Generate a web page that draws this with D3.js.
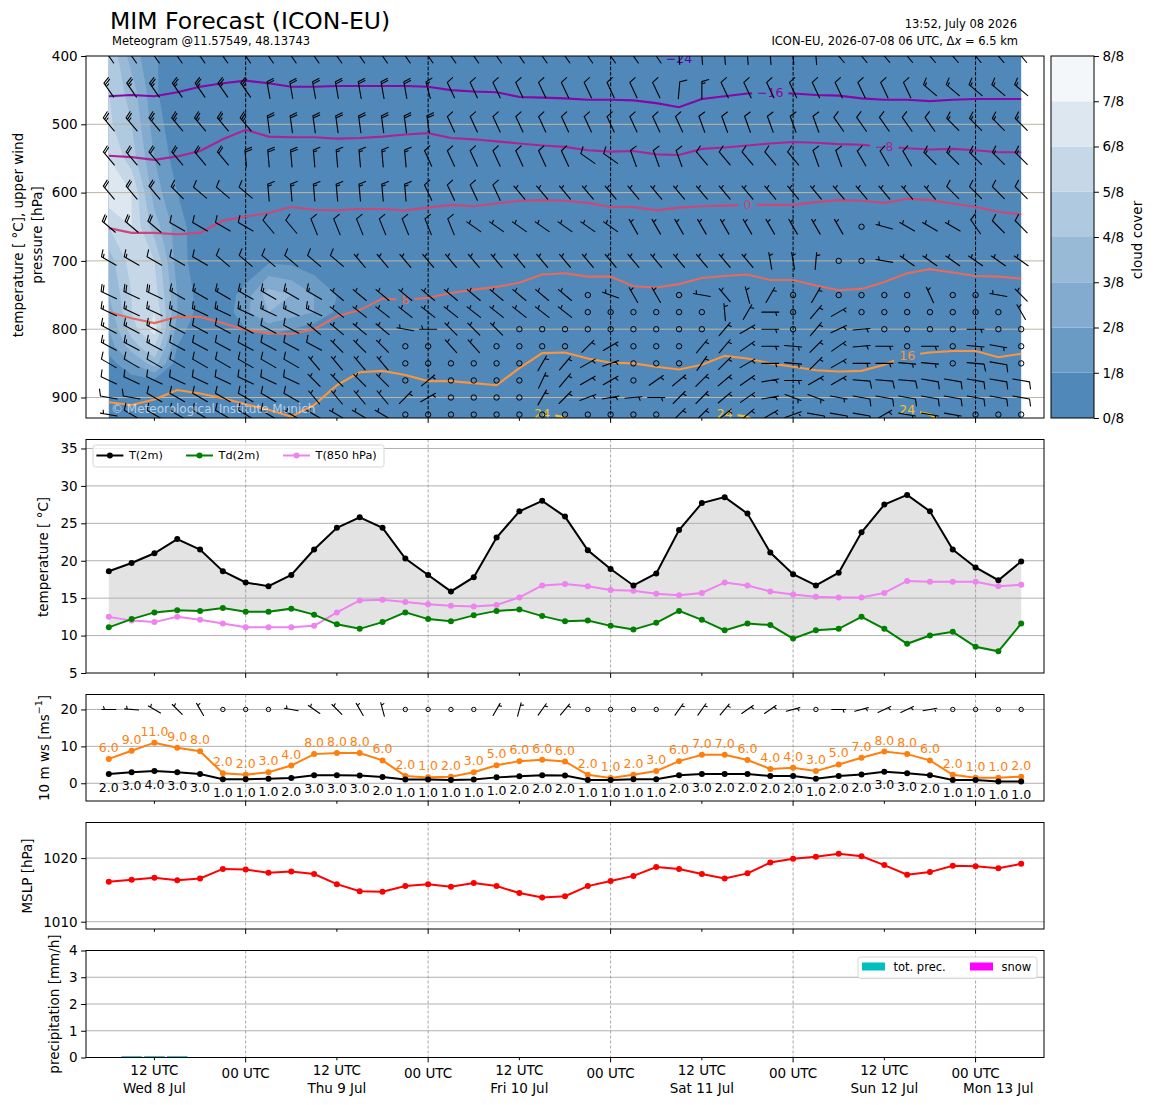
<!DOCTYPE html>
<html>
<head>
<meta charset="utf-8">
<title>MIM Forecast (ICON-EU)</title>
<script src="https://cdn.jsdelivr.net/npm/d3@7"></script>
<style>
  body { margin: 0; background: #fff; }
  text { font-family: "DejaVu Sans", "Liberation Sans", sans-serif; }
</style>
</head>
<body>
<div id="meteogram"></div>
<script>
// ICON-EU meteogram, run 2026-07-08 06 UTC, 3-hourly steps
const runStart = new Date(Date.UTC(2026, 6, 8, 6));
const runEnd = new Date(Date.UTC(2026, 6, 13, 6));
const times = d3.utcHour.every(3).range(runStart, d3.utcHour.offset(runEnd, 1));

// pressure levels of the upper-air grid [hPa]
const levels = [400, 450, 500, 550, 600, 650, 700, 750, 775, 800, 825, 850, 875, 900, 925];

// cloud cover [octas], one row per level
const cloudCover = [
  [5,2.5,1.2,0,0,0,0,0,0,0, 0,0,0,0,0,0,0,0,0,0, 0,0,0,0,0,0,0,0,0,0, 0,0,0,0,0,0,0,0,0,0, 0],
  [5,3.5,1.2,0,0,0,0,0,0,0, 0,0,0,0,0,0,0,0,0,0, 0,0,0,0,0,0,0,0,0,0, 0,0,0,0,0,0,0,0,0,0, 0],
  [5.2,4,1.5,0.3,0,0,0,0,0,0, 0,0,0,0,0,0,0,0,0,0, 0,0,0,0,0,0,0,0,0,0, 0,0,0,0,0,0,0,0,0,0, 0],
  [6,4.5,2,0.5,0,0,0,0,0,0, 0,0,0,0,0,0,0,0,0,0, 0,0,0,0,0,0,0,0,0,0, 0,0,0,0,0,0,0,0,0,0, 0],
  [6.8,6,2.5,1,0,0,0,0,0,0, 0,0,0,0,0,0,0,0,0,0, 0,0,0,0,0,0,0,0,0,0, 0,0,0,0,0,0,0,0,0,0, 0],
  [5,6,3.5,1.5,0.3,0,0,0,0,0, 0,0,0,0,0,0,0,0,0,0, 0,0,0,0,0,0,0,0,0,0, 0,0,0,0,0,0,0,0,0,0, 0],
  [3.5,5.5,5,1.5,0.4,0,0,0.8,0.7,0.3, 0,0,0,0,0,0,0,0,0,0, 0,0,0,0,0,0,0,0,0,0, 0,0,0,0,0,0,0,0,0,0, 0],
  [3,5,5.5,2,0.6,0.3,1.5,3.5,3,2, 1,0.3,0,0,0,0,0,0,0,0, 0,0,0,0,0,0,0,0,0,0, 0,0,0,0,0,0,0,0,0,0, 0],
  [2.5,5,6,2,0.6,0.3,1.8,3,2.5,2, 0.8,0,0,0,0,0,0,0,0,0, 0,0,0,0,0,0,0,0,0,0, 0,0,0,0,0,0,0,0,0,0, 0],
  [2,4.5,6.5,1.5,0.3,0,1,1.5,1,0.5, 0,0,0,0,0,0,0,0,0,0, 0,0,0,0,0,0,0,0,0,0, 0,0,0,0,0,0,0,0,0,0, 0],
  [1.5,3.5,5,1,0,0,0,0,0,0, 0,0,0,0,0,0,0,0,0,0, 0,0,0,0,0,0,0,0,0,0, 0,0,0,0,0,0,0,0,0,0, 0],
  [0.5,2,3.5,0.5,0,0,0,0,0,0, 0,0,0,0,0,0,0,0,0,0, 0,0,0,0,0,0,0,0,0,0, 0,0,0,0,0,0,0,0,0,0, 0],
  [0,0.5,0.8,0,0,0,0,0,0,0, 0,0,0,0,0,0,0,0,0,0, 0,0,0,0,0,0,0,0,0,0, 0,0,0,0,0,0,0,0,0,0, 0],
  [0,0,0,0,0,0,0,0,0,0, 0,0,0,0,0,0,0,0,0,0, 0,0,0,0,0,0,0,0,0,0, 0,0,0,0,0,0,0,0,0,0, 0],
  [0,0,0,0,0,0,0,0,0,0, 0,0,0,0,0,0,0,0,0,0, 0,0,0,0,0,0,0,0,0,0, 0,0,0,0,0,0,0,0,0,0, 0]
];

// upper wind direction [deg, from] and speed [kt], one row per level
const upperDir = [
  [325,325,325,325,325,325,325,325,325,325, 325,325,325,325,325,325,325,325,325,325, 325,325,325,325,325,355,355,355,355,355, 355,355,320,320,320,320,320,320,320,320, 320],
  [325,325,325,325,325,325,325,350,350,350, 350,350,350,350,345,335,335,335,335,335, 335,335,335,335,335,5,360,335,335,335, 335,335,335,335,335,335,310,310,310,310, 310],
  [320,320,320,320,320,320,320,352,352,352, 352,352,352,352,352,335,335,335,335,335, 335,335,335,335,335,335,340,340,340,340, 340,340,325,325,325,325,325,315,315,315, 315],
  [320,320,320,320,320,320,355,355,355,355, 355,355,355,355,335,335,335,335,335,335, 335,305,305,340,340,340,320,320,320,320, 320,340,340,330,330,330,315,315,315,315, 315],
  [320,320,320,315,310,310,310,355,355,355, 355,355,355,355,335,335,335,335,320,320, 320,320,320,320,320,320,320,320,320,320, 320,320,320,320,320,320,320,315,315,315, 315],
  [310,310,310,300,300,300,300,320,320,338, 338,338,338,338,338,338,305,305,305,305, 305,305,305,330,330,330,330,330,330,330, 330,330,330,0,285,300,300,300,325,315, 315],
  [300,300,300,300,300,310,310,310,310,310, 310,320,320,320,320,320,320,320,320,320, 320,320,320,320,320,320,320,320,320,350, 350,5,0,0,280,305,305,305,305,305, 305],
  [295,295,295,300,300,300,300,300,300,300, 310,310,310,310,310,310,310,310,310,310, 310,0,290,330,330,0,280,320,345,30, 0,30,0,0,0,0,335,0,0,280, 315],
  [295,295,295,295,295,295,295,295,295,295, 308,308,308,308,308,308,308,308,308,308, 308,0,0,0,0,0,0,355,30,90, 0,40,60,0,0,0,0,0,0,0, 330],
  [298,298,298,298,298,298,298,298,298,310, 310,310,310,280,270,315,315,315,0,0, 0,0,0,0,0,0,0,40,60,90, 0,40,65,85,0,0,0,0,90,0, 0],
  [298,298,298,298,298,298,298,298,298,298, 315,315,315,0,0,318,318,0,0,0, 0,45,60,0,0,0,40,40,55,90, 95,45,55,85,90,0,90,0,95,100, 0],
  [300,300,300,300,300,300,300,300,300,320, 320,320,320,0,0,0,0,0,0,30, 40,60,70,0,0,0,35,45,60,90, 95,45,60,90,90,95,95,0,95,100, 0],
  [295,295,295,295,295,295,295,295,295,315, 315,315,315,0,50,0,0,0,0,25, 40,60,60,0,55,50,45,50,55,80, 90,60,60,95,95,95,100,100,100,100, 100],
  [280,280,300,300,300,300,300,300,300,320, 320,320,320,45,60,0,0,0,0,30, 45,70,80,85,90,45,45,50,55,80, 110,110,100,100,100,100,100,100,100,100, 100],
  [280,300,300,300,300,300,300,300,300,300, 300,300,300,0,0,0,0,0,0,0, 0,0,0,0,0,45,45,50,50,60, 70,100,100,100,60,100,100,100,0,0, 0]
];
const upperSpd = [
  [25,25,25,25,25,25,25,25,25,25, 25,25,25,25,25,25,25,25,25,25, 25,25,25,25,25,25,25,25,25,25, 25,25,25,25,25,25,25,25,25,25, 25],
  [25,25,25,25,25,25,25,20,20,20, 20,20,20,20,15,10,10,10,10,10, 10,10,10,10,10,10,15,10,10,10, 10,10,10,10,10,10,15,15,15,15, 15],
  [25,25,25,25,25,25,25,20,20,20, 20,20,20,20,20,10,10,10,10,10, 10,10,10,10,10,10,10,10,10,10, 10,10,10,10,10,10,10,15,15,15, 15],
  [20,20,20,20,20,20,20,20,20,15, 15,15,15,15,10,10,10,10,10,10, 10,10,10,10,10,10,10,10,10,10, 10,10,10,10,10,10,15,15,15,15, 15],
  [20,20,20,15,10,10,10,15,15,15, 15,15,15,15,10,10,10,10,5,5, 5,5,5,5,5,5,5,5,5,5, 5,5,5,5,5,5,5,10,10,10, 10],
  [20,20,20,10,10,10,10,10,10,10, 10,10,10,10,10,10,5,5,5,5, 5,5,5,5,5,5,5,5,5,5, 5,5,5,0,5,5,5,5,10,10, 10],
  [15,15,10,10,10,10,10,10,10,10, 10,5,5,5,5,5,5,5,5,5, 5,5,5,5,5,5,5,5,5,5, 5,5,0,0,5,5,5,5,5,5, 5],
  [20,20,20,15,15,15,15,15,15,15, 5,5,5,5,5,5,5,5,5,5, 5,0,5,5,5,0,5,5,5,5, 0,5,0,0,0,0,5,0,0,5, 5],
  [15,15,15,15,15,15,15,15,15,15, 5,5,5,5,5,5,5,5,5,5, 5,0,0,0,0,0,0,5,5,5, 0,5,5,0,0,0,0,0,0,0, 5],
  [15,15,15,10,10,10,10,10,10,5, 5,5,5,5,5,5,5,5,0,0, 0,0,0,0,0,0,0,5,5,5, 0,5,5,5,0,0,0,0,5,0, 0],
  [15,15,15,10,10,10,10,10,10,10, 5,5,5,0,0,5,5,0,0,0, 0,5,5,0,0,0,5,5,5,5, 5,5,5,5,5,0,5,0,5,5, 0],
  [10,10,10,10,10,10,10,10,10,5, 5,5,5,0,0,0,0,0,0,5, 5,5,5,0,0,0,5,5,5,5, 5,5,5,5,5,5,5,0,10,10, 0],
  [10,10,10,10,10,10,10,10,10,5, 5,5,5,0,5,0,0,0,0,5, 5,5,5,0,5,5,5,5,5,5, 5,5,5,10,10,10,10,10,10,10, 10],
  [10,10,10,10,10,10,10,10,10,5, 5,5,5,5,5,0,0,0,0,5, 5,5,5,5,5,5,5,5,5,5, 5,5,5,10,10,10,10,10,10,10, 10],
  [5,10,10,10,10,10,10,10,5,5, 5,5,5,0,0,0,0,0,0,0, 0,0,0,0,0,5,5,5,5,5, 5,10,10,10,5,5,5,5,0,0, 0]
];

// isotherms: pressure [hPa] of each isotherm at every step
const isoLevels = [-24, -16, -8, 0, 8, 16, 24];
const isoM24 = [392,392,392,392,392,392,392,392,392,392, 392,392,392,392,392,392,392,392,392,392, 393,393,393,394,397,404,397,394,393,393, 392,392,392,392,392,392,392,392,392,392, 392];
const isoM16 = [459,457,459,453,445,440,436,440,445,445, 444,444,444,444,445,450,452,453,460,461, 462,464,464,465,469,475,463,459,455,454, 455,457,458,462,464,464,466,464,463,463, 463];
const isoM8 = [546,548,552,547,539,522,508,518,519,519, 521,520,518,515,513,520,522,525,528,531, 533,538,540,539,544,545,536,534,531,528, 526,527,529,530,533,535,537,536,538,541, 541];
const iso0 = [652,659,659,661,659,641,635,630,621,625, 626,624,624,626,622,618,620,616,612,611, 612,615,621,621,626,622,620,619,618,618, 618,614,611,612,615,609,611,616,621,628, 632];
const iso8 = [775,784,791,782,782,791,801,806,807,800, 781,772,755,757,754,747,742,738,732,720, 718,723,723,737,739,734,725,722,720,728, 728,736,743,741,731,718,712,717,722,723, 726];
const iso16 = [907,911,903,889,894,901,910,918,928,911, 882,863,861,867,876,876,879,882,857,835, 834,843,849,850,855,859,852,839,843,850, 855,860,862,861,852,838,834,832,832,841, 836];
const iso24 = [950,950,950,950,950,950,950,950,950,950, 950,950,950,950,950,950,950,950,945,923, 929,950,950,950,950,950,945,923,928,950, 950,950,950,950,945,917,925,945,950,950, 950];
const isoLabelSteps = [[25], [29], [34], [28], [13], [35], [19, 27, 35]];

// surface values
const t2m = [18.6,19.7,21.0,22.9,21.5,18.6,17.1,16.6,18.1,21.5, 24.4,25.8,24.4,20.3,18.1,15.9,17.8,23.1,26.6,28.0, 25.9,21.4,18.9,16.7,18.3,24.1,27.7,28.5,26.3,21.1, 18.2,16.7,18.4,23.8,27.5,28.8,26.6,21.5,19.1,17.4, 19.9];
const td2m = [11.1,12.2,13.1,13.4,13.3,13.7,13.2,13.2,13.6,12.8, 11.5,10.9,11.8,13.1,12.2,11.9,12.7,13.3,13.5,12.6, 11.9,12.0,11.3,10.8,11.7,13.3,12.1,10.7,11.6,11.4, 9.6,10.7,10.9,12.5,10.9,8.9,10.0,10.5,8.5,7.9, 11.6];
const t850 = [12.5,12.0,11.8,12.5,12.1,11.6,11.1,11.1,11.1,11.3, 13.1,14.7,14.8,14.5,14.2,14.0,13.9,14.1,15.1,16.7, 16.9,16.6,16.1,16.0,15.6,15.4,15.7,17.1,16.7,15.9, 15.5,15.2,15.1,15.1,15.7,17.3,17.2,17.2,17.2,16.6, 16.8];

// 10 m wind [m/s], gusts [m/s], labels as printed, direction [deg]
const ws10 = [2.5,3.0,3.3,3.0,2.5,1.1,1.1,1.2,1.4,2.2, 2.2,2.1,1.7,1.0,1.0,0.9,1.0,1.6,1.9,2.2, 2.1,0.9,0.9,1.1,1.1,2.2,2.5,2.5,2.5,2.0, 2.0,1.25,2.0,2.4,3.1,2.7,2.2,0.9,0.9,0.5, 0.5];
const ws10Labels = [2,3,4,3,3,1,1,1,2,3, 3,3,2,1,1,1,1,1,2,2, 2,1,1,1,1,2,3,2,2,2, 2,1,2,2,3,3,2,1,1,1, 1];
const gust10 = [6.6,8.8,11.0,9.6,8.7,2.7,2.3,3.0,4.8,7.9, 8.2,8.2,6.2,2.0,1.6,1.8,3.0,4.9,6.0,6.4, 5.9,2.3,1.4,2.3,3.3,6.0,7.7,7.7,6.3,3.9, 4.2,3.3,5.1,6.9,8.6,7.9,6.2,2.3,1.5,1.5, 1.8];
const gustLabels = [6,9,11,9,8,2,2,3,4,8, 8,8,6,2,1,2,3,5,6,6, 6,2,1,2,3,6,7,7,6,4, 4,3,5,7,8,8,6,2,1,1, 2];
const wd10 = [270,275,300,315,330,0,0,0,280,305, 315,330,345,0,0,0,0,30,15,35, 40,0,0,0,0,35,35,40,55,55, 75,0,90,75,65,65,80,0,0,0, 0];

const mslp = [1016.3,1016.6,1016.9,1016.5,1016.8,1018.3,1018.2,1017.7,1017.9,1017.5, 1015.9,1014.8,1014.7,1015.6,1015.9,1015.5,1016.1,1015.6,1014.5,1013.8, 1014.0,1015.6,1016.4,1017.2,1018.6,1018.3,1017.5,1016.8,1017.6,1019.3, 1019.9,1020.2,1020.7,1020.3,1018.9,1017.4,1017.8,1018.8,1018.7,1018.4, 1019.1];
const totPrec = [0,0.05,0.05,0.05,0,0,0,0,0,0, 0,0,0,0,0,0,0,0,0,0, 0,0,0,0,0,0,0,0,0,0, 0,0,0,0,0,0,0,0,0,0, 0];
const snowPrec = [0,0,0,0,0,0,0,0,0,0, 0,0,0,0,0,0,0,0,0,0, 0,0,0,0,0,0,0,0,0,0, 0,0,0,0,0,0,0,0,0,0, 0];

const cloudTicks = ["0/8","1/8","2/8","3/8","4/8","5/8","6/8","7/8","8/8"];

// ---------------------------------------------------------------
const svgWidth = 1155, svgHeight = 1105;
const left = 86, right = 1044;
const cloudColors = ["#5088b9","#6a9bc4","#82abcf","#98bad7","#afc9e0","#c6d8e8","#dde7f0","#f3f7fa"];
const isoColors = ["#5c01a6","#8606a6","#ab2494","#cc4778","#e56b5d","#f89540","#f5c228"];
const nSteps = times.length;

const svg = d3.select("#meteogram").append("svg")
    .attr("width", svgWidth)
    .attr("height", svgHeight);
const defs = svg.append("defs");

const x = d3.scaleUtc()
    .domain([new Date(Date.UTC(2026, 6, 8, 3)), new Date(Date.UTC(2026, 6, 13, 9))])
    .range([left, right]);
const stepX = d3.scaleLinear().domain([0, nSteps - 1]).range([x(times[0]), x(times[nSteps - 1])]);

const panels = {
    cloud: {top: 56, bottom: 418},
    temp: {top: 439.5, bottom: 673},
    wind: {top: 694.5, bottom: 801},
    mslp: {top: 822.5, bottom: 929},
    prec: {top: 950.5, bottom: 1057.5}
};

const yP = d3.scaleLinear().domain([400, 930]).range([panels.cloud.top, panels.cloud.bottom]);
const yT = d3.scaleLinear().domain([5, 36.2]).range([panels.temp.bottom, panels.temp.top]);
const yW = d3.scaleLinear().domain([-4.8, 24.05]).range([panels.wind.bottom, panels.wind.top]);
const yM = d3.scaleLinear().domain([1008.85, 1025.6]).range([panels.mslp.bottom, panels.mslp.top]);
const yR = d3.scaleLinear().domain([0, 4]).range([panels.prec.bottom, panels.prec.top]);

Object.entries(panels).forEach(([k, p]) => {
    defs.append("clipPath").attr("id", "clip-" + k)
        .append("rect").attr("x", left).attr("y", p.top)
        .attr("width", right - left).attr("height", p.bottom - p.top);
});

const majorTicks = d3.utcDay.range(x.domain()[0], x.domain()[1]);
const minorTicks = d3.utcHour.every(12).range(x.domain()[0], x.domain()[1]).filter(d => d.getUTCHours() === 12);

function panelGroup(key) {
    return svg.append("g").attr("clip-path", `url(#clip-${key})`);
}

function hGrid(g, scale, values, color) {
    g.selectAll(null).data(values).join("line")
        .attr("x1", left).attr("x2", right)
        .attr("y1", d => scale(d)).attr("y2", d => scale(d))
        .attr("stroke", color).attr("stroke-width", 1);
}

function vGrid(g, p, color, width, dash) {
    g.selectAll(null).data(majorTicks).join("line")
        .attr("x1", d => x(d)).attr("x2", d => x(d))
        .attr("y1", p.top).attr("y2", p.bottom)
        .attr("stroke", color).attr("stroke-width", width)
        .attr("stroke-dasharray", dash);
}

function yAxis(scale, values, fmt) {
    const g = svg.append("g")
        .attr("transform", `translate(${left},0)`)
        .call(d3.axisLeft(scale).tickValues(values).tickSize(4.9).tickPadding(3.5).tickFormat(fmt || d3.format("d")));
    g.select(".domain").remove();
    g.attr("font-size", 13.5);
    g.selectAll("line").attr("stroke", "#000");
    g.selectAll("text").attr("fill", "#000");
}

function xTicks(p) {
    const g = svg.append("g");
    g.selectAll(null).data(majorTicks).join("line")
        .attr("x1", d => x(d)).attr("x2", d => x(d))
        .attr("y1", p.bottom).attr("y2", p.bottom + 4.9).attr("stroke", "#000");
    g.selectAll(null).data(minorTicks).join("line")
        .attr("x1", d => x(d)).attr("x2", d => x(d))
        .attr("y1", p.bottom).attr("y2", p.bottom + 2.8).attr("stroke", "#000");
}

function frame(p) {
    svg.append("rect")
        .attr("x", left).attr("y", p.top)
        .attr("width", right - left).attr("height", p.bottom - p.top)
        .attr("fill", "none").attr("stroke", "#000").attr("stroke-width", 1);
}

function yLabel(cx, cy, parts) {
    const t = svg.append("text")
        .attr("transform", `translate(${cx},${cy}) rotate(-90)`)
        .attr("text-anchor", "middle")
        .attr("dominant-baseline", "central")
        .attr("font-size", 13.5);
    parts.forEach(pt => {
        const s = t.append("tspan").text(pt.text);
        if (pt.sup) s.attr("baseline-shift", "super").attr("font-size", 9.5);
    });
    return t;
}

function drawBarb(g, cx, cy, dir, kt, len, rad) {
    const mag = 5 * Math.floor(kt / 5 + 0.5);
    if (mag === 0) {
        g.append("circle").attr("cx", cx).attr("cy", cy).attr("r", rad)
            .attr("fill", "none").attr("stroke", "#000").attr("stroke-width", 1);
        return;
    }
    const a = dir * Math.PI / 180;
    const sx = Math.sin(a), sy = -Math.cos(a);
    const nx = -sy, ny = sx;
    const bx = cx - sx * len / 2, by = cy - sy * len / 2;
    const pt = (o, h) => `${(bx + sx * o + nx * h).toFixed(2)},${(by + sy * o + ny * h).toFixed(2)}`;
    const fh = 0.4 * len, fw = 0.25 * len, sp = 0.125 * len;
    const flags = Math.floor(mag / 50), rest = mag % 50;
    const full = Math.floor(rest / 10), half = rest % 10 >= 5;
    let d = `M${pt(0, 0)}L${pt(len, 0)}`;
    let poly = "";
    let off = len;
    for (let k = 0; k < flags; k++) {
        poly += `M${pt(off, 0)}L${pt(off - fw / 2, fh)}L${pt(off - fw, 0)}Z`;
        off -= fw + sp;
    }
    for (let k = 0; k < full; k++) {
        d += `M${pt(off, 0)}L${pt(off + fw / 2, fh)}`;
        off -= sp;
    }
    if (half) {
        if (off === len) off -= 1.5 * sp;
        d += `M${pt(off, 0)}L${pt(off + fw / 4, fh / 2)}`;
    }
    g.append("path").attr("d", d).attr("fill", "none")
        .attr("stroke", "#000").attr("stroke-width", 1.1).attr("stroke-linecap", "round");
    if (poly) g.append("path").attr("d", poly).attr("fill", "#000");
}

// ------------------ titles ------------------
svg.append("text").attr("x", 110).attr("y", 29).attr("font-size", 23.5).text("MIM Forecast (ICON-EU)");
svg.append("text").attr("x", 112).attr("y", 45).attr("font-size", 11.5).text("Meteogram @11.57549, 48.13743");
svg.append("text").attr("x", 1017).attr("y", 28).attr("font-size", 11.5).attr("text-anchor", "end").text("13:52, July 08 2026");
const runInfo = svg.append("text").attr("x", 1018).attr("y", 44.5).attr("font-size", 11.5).attr("text-anchor", "end");
runInfo.append("tspan").text("ICON-EU, 2026-07-08 06 UTC, Δ");
runInfo.append("tspan").attr("font-style", "italic").text("x");
runInfo.append("tspan").text(" = 6.5 km");

// ------------------ panel 1: cloud cover, isotherms, upper wind ------------------
const pc = panels.cloud;
const g1 = panelGroup("cloud");

g1.append("rect")
    .attr("x", x(times[0])).attr("y", pc.top)
    .attr("width", x(times[nSteps - 1]) - x(times[0]))
    .attr("height", pc.bottom - pc.top)
    .attr("fill", cloudColors[0]);

function gridToScreen([gx, gy]) {
    const fi = Math.max(0, Math.min(nSteps - 1, gx - 0.5));
    const fj = Math.max(0, Math.min(levels.length - 1, gy - 0.5));
    const j0 = Math.min(levels.length - 2, Math.floor(fj));
    const p = levels[j0] + (fj - j0) * (levels[j0 + 1] - levels[j0]);
    return [stepX(fi), yP(p)];
}
const bands = d3.contours()
    .size([nSteps, levels.length])
    .thresholds(d3.range(1, 8))(cloudCover.flat());
g1.selectAll(".band").data(bands).join("path")
    .attr("class", "band")
    .attr("fill", d => cloudColors[d.value])
    .attr("fill-rule", "evenodd")
    .attr("d", d => d.coordinates.map(poly => poly.map(ring =>
        "M" + ring.map(c => gridToScreen(c).map(v => v.toFixed(2)).join(",")).join("L") + "Z").join("")).join(""));

hGrid(g1, yP, [500, 600, 700, 800, 900], "#bdb6a6");
vGrid(g1, pc, "#000", 1, "3.7,1.6");

const isoData = [isoM24, isoM16, isoM8, iso0, iso8, iso16, iso24];
const isoLineGroup = g1.append("g");
const isoLabelGroup = g1.append("g");
isoData.forEach((pres, k) => {
    const labels = isoLabelGroup.selectAll(null).data(isoLabelSteps[k]).join("text")
        .attr("x", i => x(times[i]))
        .attr("y", i => yP(pres[i]))
        .attr("text-anchor", "middle")
        .attr("dominant-baseline", "central")
        .attr("font-size", 12.5)
        .attr("fill", isoColors[k])
        .text(isoLevels[k] < 0 ? "\u2212" + Math.abs(isoLevels[k]) : String(isoLevels[k]));
    const mask = defs.append("mask").attr("id", "isomask" + k)
        .attr("maskUnits", "userSpaceOnUse")
        .attr("x", 0).attr("y", 0).attr("width", svgWidth).attr("height", svgHeight);
    mask.append("rect").attr("x", 0).attr("y", 0).attr("width", svgWidth).attr("height", svgHeight).attr("fill", "#fff");
    labels.each(function () {
        const bb = this.getBBox();
        mask.append("rect").attr("x", bb.x - 5).attr("y", bb.y - 4)
            .attr("width", bb.width + 10).attr("height", bb.height + 8).attr("fill", "#000");
    });
    isoLineGroup.append("path")
        .datum(pres)
        .attr("mask", `url(#isomask${k})`)
        .attr("fill", "none")
        .attr("stroke", isoColors[k])
        .attr("stroke-width", 2.1)
        .attr("d", d3.line().x((d, i) => x(times[i])).y(d => yP(d)));
});

const barbGroup = g1.append("g");
levels.forEach((lev, j) => {
    times.forEach((t, i) => {
        drawBarb(barbGroup, x(t), yP(lev), upperDir[j][i], upperSpd[j][i], 17, 2.7);
    });
});

g1.append("text")
    .attr("x", 111).attr("y", 413)
    .attr("font-size", 12)
    .attr("fill", "#fff").attr("fill-opacity", 0.6)
    .text("© Meteorological Institute Munich");

frame(pc);
xTicks(pc);
yAxis(yP, [400, 500, 600, 700, 800, 900]);
yLabel(17.5, 235, [{text: "temperature [ °C], upper wind"}]);
yLabel(36.5, 235, [{text: "pressure [hPa]"}]);

// colorbar
const cbX = 1051, cbW = 43;
const yCb = d3.scaleLinear().domain([0, 8]).range([pc.bottom, pc.top]);
svg.append("g").selectAll("rect").data(cloudColors).join("rect")
    .attr("x", cbX).attr("width", cbW)
    .attr("y", (c, k) => yCb(k + 1)).attr("height", (c, k) => yCb(k) - yCb(k + 1))
    .attr("fill", c => c);
svg.append("rect").attr("x", cbX).attr("y", pc.top).attr("width", cbW).attr("height", pc.bottom - pc.top)
    .attr("fill", "none").attr("stroke", "#000");
const cbAxis = svg.append("g").attr("transform", `translate(${cbX + cbW},0)`)
    .call(d3.axisRight(yCb).tickValues(d3.range(0, 9)).tickSize(4.9).tickPadding(3.5).tickFormat(k => cloudTicks[k]));
cbAxis.select(".domain").remove();
cbAxis.attr("font-size", 13.5);
cbAxis.selectAll("line").attr("stroke", "#000");
cbAxis.selectAll("text").attr("fill", "#000");
yLabel(1137, 240, [{text: "cloud cover"}]);

// ------------------ panel 2: temperatures ------------------
const pt2 = panels.temp;
const g2 = panelGroup("temp");
g2.append("path").datum(times)
    .attr("fill", "#e3e3e3")
    .attr("d", d3.area().x(d => x(d)).y0((d, i) => yT(td2m[i])).y1((d, i) => yT(t2m[i])));
hGrid(g2, yT, [10, 15, 20, 25, 30, 35], "#b0b0b0");
vGrid(g2, pt2, "#909090", 0.8, "3,2");

const tempSeries = [
    {name: "T(2m)", values: t2m, color: "#000000"},
    {name: "Td(2m)", values: td2m, color: "#008000"},
    {name: "T(850 hPa)", values: t850, color: "#ee82ee"}
];
tempSeries.slice().reverse().forEach(s => {
    g2.append("path").datum(s.values)
        .attr("fill", "none").attr("stroke", s.color).attr("stroke-width", 2)
        .attr("d", d3.line().x((d, i) => x(times[i])).y(d => yT(d)));
    g2.selectAll(null).data(s.values).join("circle")
        .attr("cx", (d, i) => x(times[i])).attr("cy", d => yT(d))
        .attr("r", 3).attr("fill", s.color);
});

// legend
const lg = svg.append("g");
lg.append("rect").attr("x", 93).attr("y", 445).attr("width", 291).attr("height", 22).attr("rx", 2.5)
    .attr("fill", "#fff").attr("fill-opacity", 0.8).attr("stroke", "#d5d5d5");
const legendX = [96.4, 186, 283];
tempSeries.forEach((s, k) => {
    lg.append("line").attr("x1", legendX[k]).attr("x2", legendX[k] + 27).attr("y1", 455.5).attr("y2", 455.5)
        .attr("stroke", s.color).attr("stroke-width", 2);
    lg.append("circle").attr("cx", legendX[k] + 13.5).attr("cy", 455.5).attr("r", 3).attr("fill", s.color);
    lg.append("text").attr("x", legendX[k] + 32.5).attr("y", 455.5).attr("dominant-baseline", "central")
        .attr("font-size", 11.3).text(s.name);
});

frame(pt2);
xTicks(pt2);
yAxis(yT, [5, 10, 15, 20, 25, 30, 35]);
yLabel(43, 557, [{text: "temperature [ °C]"}]);

// ------------------ panel 3: 10 m wind ------------------
const pw = panels.wind;
const g3 = panelGroup("wind");
hGrid(g3, yW, [0, 10, 20], "#b0b0b0");
vGrid(g3, pw, "#909090", 0.8, "3,2");

const windSeries = [
    {values: gust10, labels: gustLabels, color: "#ff7f0e", dy: -11.5},
    {values: ws10, labels: ws10Labels, color: "#000000", dy: 13}
];
windSeries.forEach(s => {
    g3.append("path").datum(s.values)
        .attr("fill", "none").attr("stroke", s.color).attr("stroke-width", 2)
        .attr("d", d3.line().x((d, i) => x(times[i])).y(d => yW(d)));
    g3.selectAll(null).data(s.values).join("circle")
        .attr("cx", (d, i) => x(times[i])).attr("cy", d => yW(d))
        .attr("r", 3).attr("fill", s.color);
    g3.selectAll(null).data(s.values).join("text")
        .attr("x", (d, i) => x(times[i])).attr("y", d => yW(d) + s.dy)
        .attr("text-anchor", "middle").attr("dominant-baseline", "central")
        .attr("font-size", 12.5).attr("fill", s.color)
        .text((d, i) => s.labels[i].toFixed(1));
});
const barb10 = g3.append("g");
times.forEach((t, i) => drawBarb(barb10, x(t), yW(20), wd10[i], ws10[i] * 1.94384, 14, 2.2));

frame(pw);
xTicks(pw);
yAxis(yW, [0, 10, 20]);
yLabel(44, 748, [{text: "10 m ws [ms"}, {text: "\u22121", sup: true}, {text: "]"}]);

// ------------------ panel 4: MSLP ------------------
const pm = panels.mslp;
const g4 = panelGroup("mslp");
hGrid(g4, yM, [1010, 1020], "#b0b0b0");
vGrid(g4, pm, "#909090", 0.8, "3,2");
g4.append("path").datum(mslp)
    .attr("fill", "none").attr("stroke", "#ff0000").attr("stroke-width", 2)
    .attr("d", d3.line().x((d, i) => x(times[i])).y(d => yM(d)));
g4.selectAll(null).data(mslp).join("circle")
    .attr("cx", (d, i) => x(times[i])).attr("cy", d => yM(d))
    .attr("r", 3).attr("fill", "#ff0000");
frame(pm);
xTicks(pm);
yAxis(yM, [1010, 1020]);
yLabel(27, 876, [{text: "MSLP [hPa]"}]);

// ------------------ panel 5: precipitation ------------------
const pr = panels.prec;
const g5 = panelGroup("prec");
hGrid(g5, yR, [1, 2, 3], "#b0b0b0");
vGrid(g5, pr, "#909090", 0.8, "3,2");
const barW = 0.9 * (x(times[1]) - x(times[0]));
g5.selectAll(".tp").data(totPrec).join("rect")
    .attr("class", "tp")
    .attr("x", (d, i) => x(times[i]) - barW / 2).attr("width", barW)
    .attr("y", d => yR(d)).attr("height", d => yR(0) - yR(d))
    .attr("fill", "#00bfbf");
g5.selectAll(".sn").data(snowPrec).join("rect")
    .attr("class", "sn")
    .attr("x", (d, i) => x(times[i]) - barW / 2).attr("width", barW)
    .attr("y", d => yR(d)).attr("height", d => yR(0) - yR(d))
    .attr("fill", "#ff00ff");

const pl = svg.append("g");
pl.append("rect").attr("x", 858).attr("y", 957).attr("width", 179).attr("height", 21.5).attr("rx", 2.5)
    .attr("fill", "#fff").attr("fill-opacity", 0.8).attr("stroke", "#d5d5d5");
[{name: "tot. prec.", color: "#00bfbf", x: 862}, {name: "snow", color: "#ff00ff", x: 970}].forEach(e => {
    pl.append("rect").attr("x", e.x).attr("y", 962.5).attr("width", 23).attr("height", 8).attr("fill", e.color);
    pl.append("text").attr("x", e.x + 31.5).attr("y", 967).attr("dominant-baseline", "central")
        .attr("font-size", 11.5).text(e.name);
});

frame(pr);
xTicks(pr);
yAxis(yR, [0, 1, 2, 3, 4]);
yLabel(54, 1004, [{text: "precipitation [mm/h]"}]);

// bottom time labels
const xl = svg.append("g").attr("font-size", 13.5).attr("text-anchor", "middle");
xl.selectAll(null).data(majorTicks).join("text")
    .attr("x", d => x(d)).attr("y", 1072.5).attr("dominant-baseline", "central")
    .text("00 UTC");
const dayFmt = d3.utcFormat("%a %-d %b");
minorTicks.forEach(d => {
    xl.append("text").attr("x", x(d)).attr("y", 1070).attr("dominant-baseline", "central").text("12 UTC");
    xl.append("text").attr("x", x(d)).attr("y", 1087.5).attr("dominant-baseline", "central").text(dayFmt(d));
});
// the last day has no 12 UTC step: its name sits between midnight and the end of the run
const lastDay = majorTicks[majorTicks.length - 1];
xl.append("text")
    .attr("x", (x(lastDay) + x(times[nSteps - 1])) / 2).attr("y", 1087.5)
    .attr("dominant-baseline", "central").text(dayFmt(lastDay));
</script>
</body>
</html>
